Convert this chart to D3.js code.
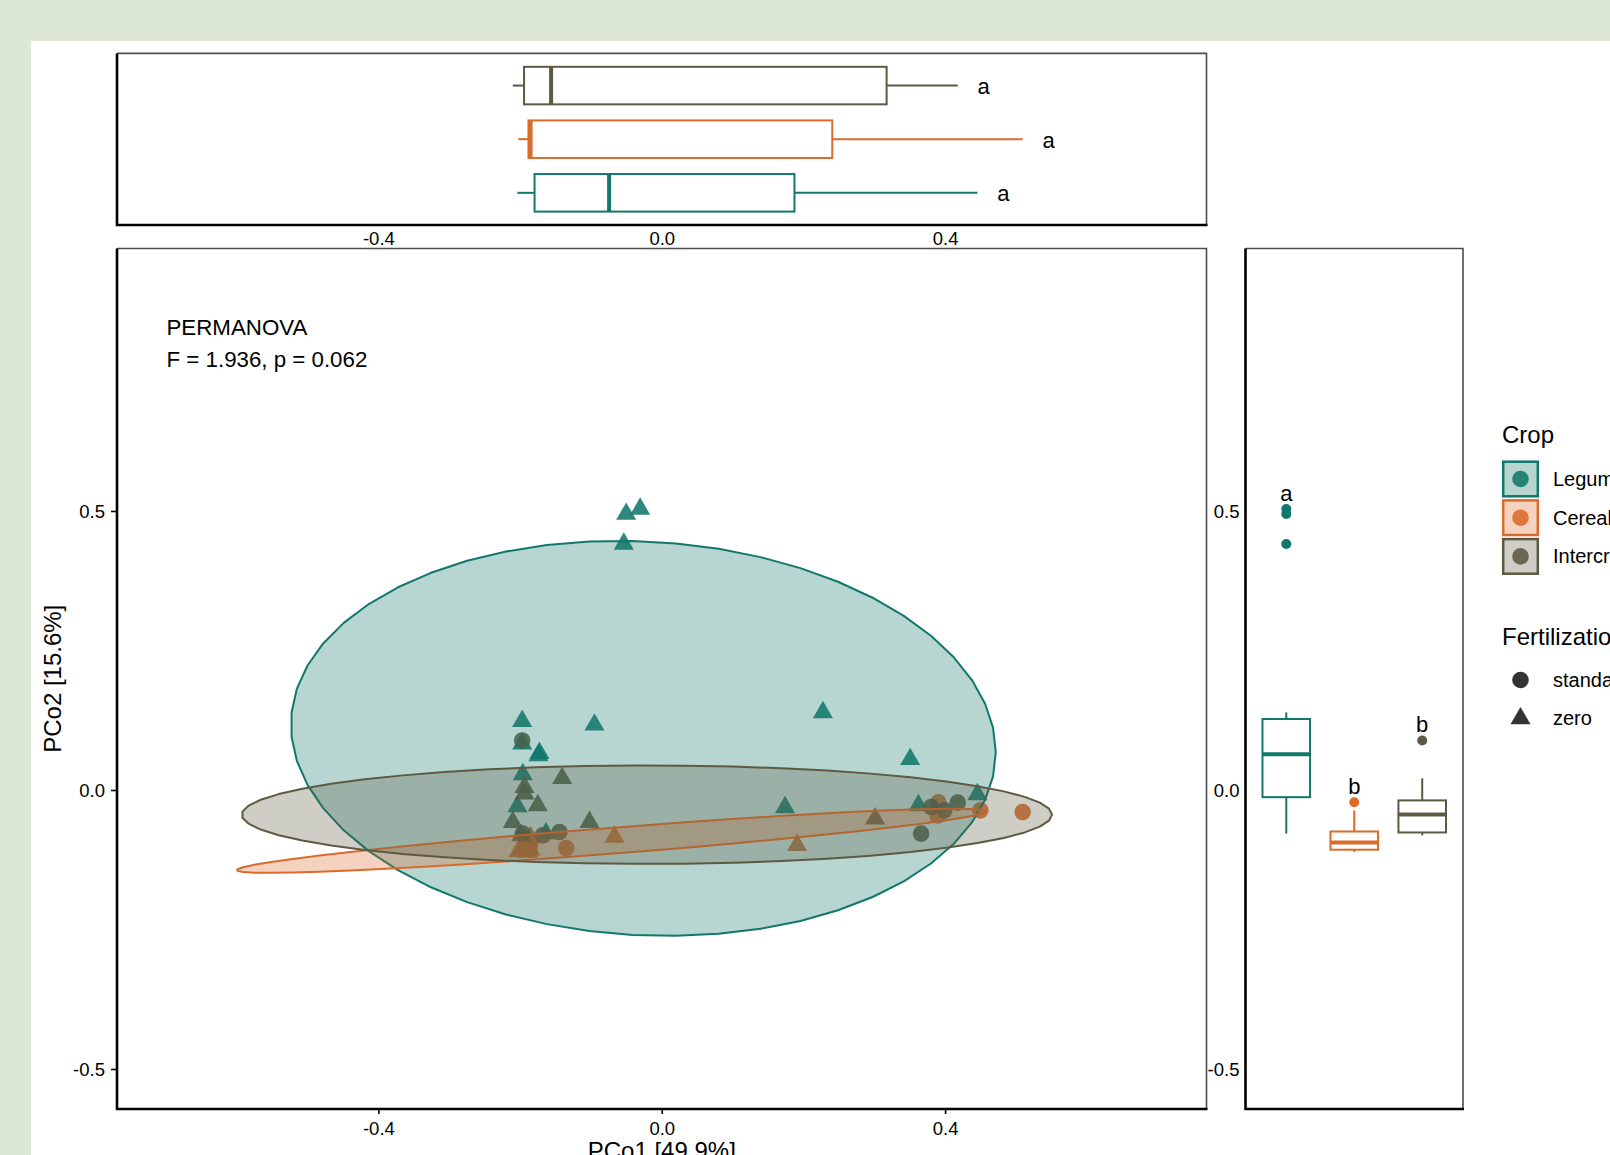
<!DOCTYPE html>
<html><head><meta charset="utf-8">
<script src="https://cdn.jsdelivr.net/npm/d3@7"></script>
<style>
html,body{margin:0;padding:0;background:#dce8d5;overflow:hidden}
svg{display:block}
text{font-family:"Liberation Sans",Arial,Helvetica,sans-serif}
</style></head><body>
<svg id="chart" width="1610" height="1155"></svg>
<script>
// ---------------- data ----------------
const crops = ["Legume", "Cereal", "Intercrop"];
const cropColors = ["#12786B", "#DA6B2B", "#5E5943"];
const fertLevels = ["standard", "zero"];

const legumePCo1 = [-0.0305, -0.0502, -0.0536, -0.1970, -0.0950, 0.2275, -0.1970, -0.1726, -0.1740, -0.1962, 0.3507, -0.2037, -0.1634, 0.1740, 0.3623, 0.4456];
const legumePCo2 = [0.5036, 0.4946, 0.4409, 0.1233, 0.1169, 0.1390, 0.0829, 0.0660, 0.0619, 0.0279, 0.0551, -0.0294, -0.0780, -0.0311, -0.0276, -0.0080];
const legumeFert = ["zero","zero","zero","zero","zero","zero","zero","zero","zero","zero","zero","zero","zero","zero","zero","zero"];

const cerealPCo1 = [-0.2025, -0.1973, -0.1924, -0.1886, -0.1880, -0.1867, -0.1859, -0.1853, -0.1850, -0.1349, -0.0668, 0.1911, 0.3896, 0.3905, 0.4498, 0.5095];
const cerealPCo2 = [-0.110, -0.108, -0.088, -0.111, -0.092, -0.107, -0.096, -0.107, -0.085, -0.104, -0.084, -0.099, -0.0455, -0.022, -0.0365, -0.0396];
const cerealFert = ["zero","zero","standard","zero","zero","standard","standard","zero","zero","standard","zero","zero","standard","standard","standard","standard"];

const intercropPCo1 = [-0.1406, -0.1938, -0.1938, -0.1750, -0.2103, -0.1020, -0.1984, 0.3012, -0.1970, -0.1962, -0.1680, -0.1444, 0.3802, 0.3990, 0.4178, 0.3661];
const intercropPCo2 = [0.021, 0.0052, -0.0066, -0.0276, -0.0575, -0.0575, -0.0813, -0.0514, 0.0888, -0.0782, -0.0813, -0.0754, -0.0306, -0.0365, -0.0227, -0.0782];
const intercropFert = ["zero","zero","zero","zero","zero","zero","zero","zero","standard","standard","standard","standard","standard","standard","standard","standard"];

// 95% ellipses (centre, half-extent in x and y, correlation), per crop
const ellipseCx = [-0.026, -0.071, -0.021];
const ellipseCy = [0.0925, -0.091, -0.0442];
const ellipseSx = [0.4975, 0.529, 0.572];
const ellipseSy = [0.354, 0.0575, 0.0882];
const ellipseRho = [-0.07, 0.915, 0.0];

const pco1Letters = ["a", "a", "a"];
const pco2Letters = ["a", "b", "b"];
const axisTicks = [-0.4, 0.0, 0.4];
const yTicks = [-0.5, 0.0, 0.5];
const permanovaText = ["PERMANOVA", "F = 1.936, p = 0.062"];
const xTitle = "PCo1 [49.9%]";
const yTitle = "PCo2 [15.6%]";

// ---------------- build ----------------
const groups = [
  {pc1: legumePCo1, pc2: legumePCo2, fert: legumeFert},
  {pc1: cerealPCo1, pc2: cerealPCo2, fert: cerealFert},
  {pc1: intercropPCo1, pc2: intercropPCo2, fert: intercropFert}
];
const points = [];
groups.forEach((g, ci) => g.pc1.forEach((v, i) => points.push({crop: ci, x: v, y: g.pc2[i], fert: g.fert[i]})));

const W = 1610, H = 1155;
const svg = d3.select("#chart");
svg.append("rect").attr("x", 31).attr("y", 41).attr("width", W - 31).attr("height", H - 41).attr("fill", "#fff");

const FONT = '"Liberation Sans",Arial,Helvetica,sans-serif';
const axisCol = "#000", borderCol = "#4d4d4d";
const fmt = d => d.toFixed(1);
const PT_ALPHA = 0.88, FILL_ALPHA = 0.3;

// main panel geometry
const mL = 117, mR = 1206.5, mT = 248.5, mB = 1109;
const x = d3.scaleLinear().domain([-0.769, 0.769]).range([mL, mR]);
const y = d3.scaleLinear().domain([-0.5717, 0.9704]).range([mB, mT]);

// top panel
const tT = 53.4, tB = 225;
const yTop = d3.scaleLinear().domain([0.4, 3.6]).range([tB, tT]);
// right panel
const rL = 1245.5, rR = 1463;
const xRight = d3.scaleLinear().domain([0.4, 3.6]).range([rL, rR]);

function boxStats(vals) {
  const s = vals.slice().sort(d3.ascending);
  const q1 = d3.quantileSorted(s, 0.25), med = d3.quantileSorted(s, 0.5), q3 = d3.quantileSorted(s, 0.75);
  const iqr = q3 - q1, lo = q1 - 1.5 * iqr, hi = q3 + 1.5 * iqr;
  const inside = s.filter(v => v >= lo && v <= hi);
  return {q1, med, q3, wlo: d3.min(inside), whi: d3.max(inside), out: s.filter(v => v < lo || v > hi), max: s[s.length - 1]};
}

function panelFrame(l, r, t, b) {
  const g = svg.append("g");
  g.append("path").attr("d", `M${l},${t}H${r}V${b}`).attr("fill", "none").attr("stroke", borderCol).attr("stroke-width", 1.6);
  g.append("path").attr("d", `M${l},${t}V${b}H${r + 1}`)
    .attr("fill", "none").attr("stroke", axisCol).attr("stroke-width", 2.6);
}

// ---------- main panel ----------
const clipM = svg.append("clipPath").attr("id", "clipM");
clipM.append("rect").attr("x", mL).attr("y", mT).attr("width", mR - mL).attr("height", mB - mT);
const gMain = svg.append("g").attr("clip-path", "url(#clipM)");

const symCircle = d3.symbol(d3.symbolCircle, Math.PI * 8.3 * 8.3);
const symTri = d3.symbol(d3.symbolTriangle, 175);
// points first (ellipses are layered on top, as in the original)
gMain.selectAll("path.pt").data(points).join("path").attr("class", "pt")
  .attr("transform", d => `translate(${x(d.x)},${y(d.y)})`)
  .attr("d", d => d.fert === "zero" ? symTri() : symCircle())
  .attr("fill", d => cropColors[d.crop]).attr("fill-opacity", PT_ALPHA);

const line = d3.line().curve(d3.curveLinearClosed);
crops.forEach((c, i) => {
  const n = 52, r = ellipseRho[i];
  const pts = d3.range(n - 1).map(k => {
    const t = 2 * Math.PI * k / (n - 1);
    return [x(ellipseCx[i] + ellipseSx[i] * Math.cos(t)),
            y(ellipseCy[i] + ellipseSy[i] * (r * Math.cos(t) + Math.sqrt(1 - r * r) * Math.sin(t)))];
  });
  gMain.append("path").attr("d", line(pts))
    .attr("fill", cropColors[i]).attr("fill-opacity", FILL_ALPHA)
    .attr("stroke", cropColors[i]).attr("stroke-width", 2).attr("stroke-linejoin", "round");
});

panelFrame(mL, mR, mT, mB);

function styleAxis(g, size) {
  g.attr("font-family", FONT).attr("font-size", size);
  g.select(".domain").remove();
  g.selectAll(".tick line").attr("stroke", axisCol).attr("stroke-width", 1.6);
  g.selectAll(".tick text").attr("fill", "#000");
}
const axB = svg.append("g").attr("transform", `translate(0,${mB})`)
  .call(d3.axisBottom(x).tickValues(axisTicks).tickFormat(fmt).tickSize(5).tickPadding(8));
styleAxis(axB, 18.5);
const axL = svg.append("g").attr("transform", `translate(${mL},0)`)
  .call(d3.axisLeft(y).tickValues(yTicks).tickFormat(fmt).tickSize(6).tickPadding(6));
styleAxis(axL, 18.5);
axL.selectAll(".tick text").attr("dy", "0.36em");

// PERMANOVA annotation
svg.append("text").attr("x", 166.5).attr("y", 335).attr("font-size", 22.3).text(permanovaText[0]);
svg.append("text").attr("x", 166.5).attr("y", 367).attr("font-size", 22.3).text(permanovaText[1]);

// axis titles
svg.append("text").attr("x", (mL + mR) / 2).attr("y", 1159).attr("text-anchor", "middle").attr("font-size", 24).text(xTitle);
svg.append("text").attr("transform", `translate(61,${(mT + mB) / 2}) rotate(-90)`).attr("text-anchor", "middle").attr("font-size", 24).text(yTitle);

// ---------- top panel (PCo1 boxplots) ----------
const gTop = svg.append("g");
crops.forEach((c, i) => {
  const s = boxStats(groups[i].pc1), pos = i + 1, col = cropColors[i];
  const cy = yTop(pos), y0 = yTop(pos + 0.35), y1 = yTop(pos - 0.35);
  gTop.append("line").attr("x1", x(s.wlo)).attr("x2", x(s.q1)).attr("y1", cy).attr("y2", cy).attr("stroke", col).attr("stroke-width", 2);
  gTop.append("line").attr("x1", x(s.q3)).attr("x2", x(s.whi)).attr("y1", cy).attr("y2", cy).attr("stroke", col).attr("stroke-width", 2);
  gTop.append("rect").attr("x", x(s.q1)).attr("y", y0).attr("width", x(s.q3) - x(s.q1)).attr("height", y1 - y0)
    .attr("fill", "#fff").attr("stroke", col).attr("stroke-width", 2);
  gTop.append("line").attr("x1", x(s.med)).attr("x2", x(s.med)).attr("y1", y0).attr("y2", y1).attr("stroke", col).attr("stroke-width", 4);
  gTop.selectAll(null).data(s.out).join("circle").attr("cx", d => x(d)).attr("cy", cy).attr("r", 5).attr("fill", col);
  gTop.append("text").attr("x", x(s.max + 0.028)).attr("y", cy + 8.5).attr("font-size", 22).text(pco1Letters[i]);
});
panelFrame(mL, mR, tT, tB);
const axT = svg.append("g").attr("transform", `translate(0,${tB})`)
  .call(d3.axisBottom(x).tickValues(axisTicks).tickFormat(fmt).tickSize(0).tickPadding(7));
styleAxis(axT, 18.5);

// ---------- right panel (PCo2 boxplots) ----------
const gRight = svg.append("g");
crops.forEach((c, i) => {
  const s = boxStats(groups[i].pc2), pos = i + 1, col = cropColors[i];
  const cx = xRight(pos), x0 = xRight(pos - 0.35), x1 = xRight(pos + 0.35);
  gRight.append("line").attr("x1", cx).attr("x2", cx).attr("y1", y(s.wlo)).attr("y2", y(s.q1)).attr("stroke", col).attr("stroke-width", 2);
  gRight.append("line").attr("x1", cx).attr("x2", cx).attr("y1", y(s.q3)).attr("y2", y(s.whi)).attr("stroke", col).attr("stroke-width", 2);
  gRight.append("rect").attr("x", x0).attr("y", y(s.q3)).attr("width", x1 - x0).attr("height", y(s.q1) - y(s.q3))
    .attr("fill", "#fff").attr("stroke", col).attr("stroke-width", 2);
  gRight.append("line").attr("x1", x0).attr("x2", x1).attr("y1", y(s.med)).attr("y2", y(s.med)).attr("stroke", col).attr("stroke-width", 4);
  gRight.selectAll(null).data(s.out).join("circle").attr("cx", cx).attr("cy", d => y(d)).attr("r", 5).attr("fill", col);
  gRight.append("text").attr("x", cx).attr("y", y(s.max) - 8).attr("text-anchor", "middle").attr("font-size", 22).text(pco2Letters[i]);
});
panelFrame(rL, rR, mT, mB);
const axR = svg.append("g").attr("transform", `translate(${rL},0)`)
  .call(d3.axisLeft(y).tickValues(yTicks).tickFormat(fmt).tickSize(0).tickPadding(6));
styleAxis(axR, 18.5);
axR.selectAll(".tick text").attr("dy", "0.36em");

// ---------- legends ----------
const lg = svg.append("g");
lg.append("text").attr("x", 1502).attr("y", 443).attr("font-size", 24).text("Crop");
crops.forEach((c, i) => {
  const ky = 460.5 + i * 38.7;
  lg.append("path").attr("transform", `translate(1520.5,${ky + 18.5})`).attr("d", symCircle())
    .attr("fill", cropColors[i]).attr("fill-opacity", PT_ALPHA);
  lg.append("rect").attr("x", 1503.2).attr("y", ky + 1.2).attr("width", 34.6).attr("height", 34.6)
    .attr("fill", cropColors[i]).attr("fill-opacity", FILL_ALPHA).attr("stroke", cropColors[i]).attr("stroke-width", 2.5);
  lg.append("text").attr("x", 1553).attr("y", ky + 25.5).attr("font-size", 20).text(c);
});
lg.append("text").attr("x", 1502).attr("y", 645).attr("font-size", 24).text("Fertilization");
fertLevels.forEach((f, i) => {
  const ky = 680 + i * 38.5;
  lg.append("path").attr("transform", `translate(1520.5,${ky})`).attr("d", f === "zero" ? symTri() : symCircle())
    .attr("fill", "#000").attr("fill-opacity", 0.8);
  lg.append("text").attr("x", 1553).attr("y", ky + 6.8).attr("font-size", 20).text(f);
});
</script>
</body></html>
